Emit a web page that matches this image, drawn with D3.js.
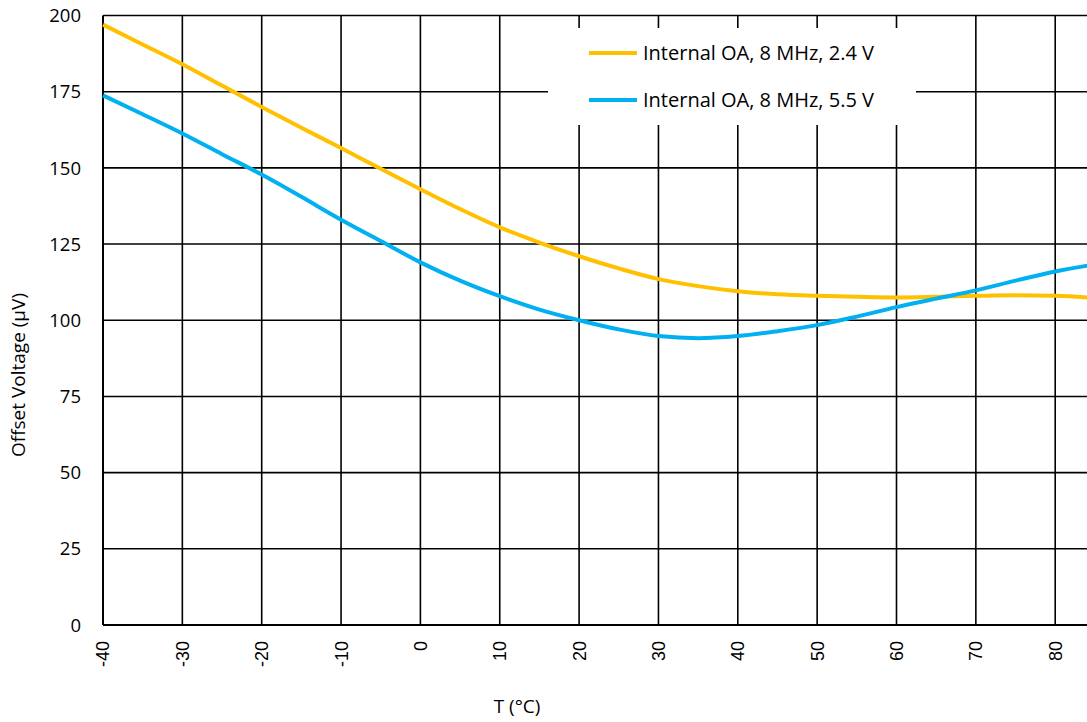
<!DOCTYPE html>
<html><head><meta charset="utf-8">
<script src="https://cdn.jsdelivr.net/npm/d3@7"></script>
<style>body{margin:0;background:#fff}svg{display:block}</style>
</head><body>
<svg id="c" width="1087" height="722"></svg>
<script>
const temps = [-40,-35,-30,-25,-20,-15,-10,-5,0,5,10,15,20,25,30,35,40,45,50,55,60,65,70,75,80,85];
const vLow  = [197,190.5,184,177,170,163.2,156.5,149.7,143,136.5,130.5,125.5,121,117,113.5,111.2,109.5,108.5,108,107.7,107.5,107.7,108,108.2,108,107.3];
const vHigh = [173.8,167.6,161.3,154.5,147.8,140.5,133,126,119,113,107.9,103.5,100,97,94.8,94.1,94.8,96.4,98.4,101.2,104.3,107.1,109.8,113,116,118.3];
const seriesNames = ["Internal OA, 8 MHz, 2.4 V","Internal OA, 8 MHz, 5.5 V"];
const colors = ["#FFC000","#00B0F0"];
const xTicks = [-40,-30,-20,-10,0,10,20,30,40,50,60,70,80];
const yTicks = [0,25,50,75,100,125,150,175,200];
const FONT = "'Open Sans', sans-serif";

const svg = d3.select("#c");
const x = d3.scaleLinear().domain([-40,85]).range([103,103+125*7.935]);
const y = d3.scaleLinear().domain([0,200]).range([625,15.5]);

const grid = svg.append("g");
grid.selectAll("line.h").data(yTicks).join("line")
  .attr("x1",x(-40)).attr("x2",1100).attr("y1",d=>y(d)).attr("y2",d=>y(d))
  .attr("stroke","#000").attr("stroke-width",d=>d===0?2:1.6);
grid.selectAll("line.v").data(xTicks).join("line")
  .attr("y1",y(0)).attr("y2",y(200)).attr("x1",d=>x(d)).attr("x2",d=>x(d))
  .attr("stroke","#000").attr("stroke-width",d=>d===-40?2:1.6);

svg.append("rect").attr("x",548).attr("y",28).attr("width",368).attr("height",97).attr("fill","#fff");

const line = d3.line().x(d=>x(d[0])).y(d=>y(d[1])).curve(d3.curveMonotoneX);
[vLow,vHigh].forEach((vals,i)=>{
  svg.append("path").datum(temps.map((t,j)=>[t,vals[j]]))
    .attr("d",line).attr("fill","none").attr("stroke",colors[i]).attr("stroke-width",4);
});

svg.selectAll("text.yt").data(yTicks).join("text")
  .attr("x",81).attr("y",d=>y(d)).attr("dy","0.36em").attr("text-anchor","end")
  .attr("font-family",FONT).attr("font-size",18.5).attr("fill","#000")
  .text(d=>d);
svg.selectAll("text.xt").data(xTicks).join("text")
  .attr("transform",d=>`translate(${x(d)},641) rotate(-90)`)
  .attr("dy","0.36em").attr("text-anchor","end")
  .attr("font-family","'Liberation Sans', Arial, sans-serif").attr("font-size",18).attr("fill","#000")
  .text(d=>d);

svg.append("text").attr("x",517).attr("y",713).attr("text-anchor","middle")
  .attr("font-family",FONT).attr("font-size",19).text("T (°C)");
svg.append("text").attr("transform","translate(25,375) rotate(-90)").attr("text-anchor","middle")
  .attr("font-family",FONT).attr("font-size",19).text("Offset Voltage (µV)");

const lg = svg.append("g");
seriesNames.forEach((n,i)=>{
  const yy = 53 + i*47;
  lg.append("line").attr("x1",589).attr("x2",637).attr("y1",yy).attr("y2",yy)
    .attr("stroke",colors[i]).attr("stroke-width",4);
  lg.append("text").attr("x",643).attr("y",yy).attr("dy","0.36em")
    .attr("font-family",FONT).attr("font-size",20).text(n);
});
</script>
</body></html>
